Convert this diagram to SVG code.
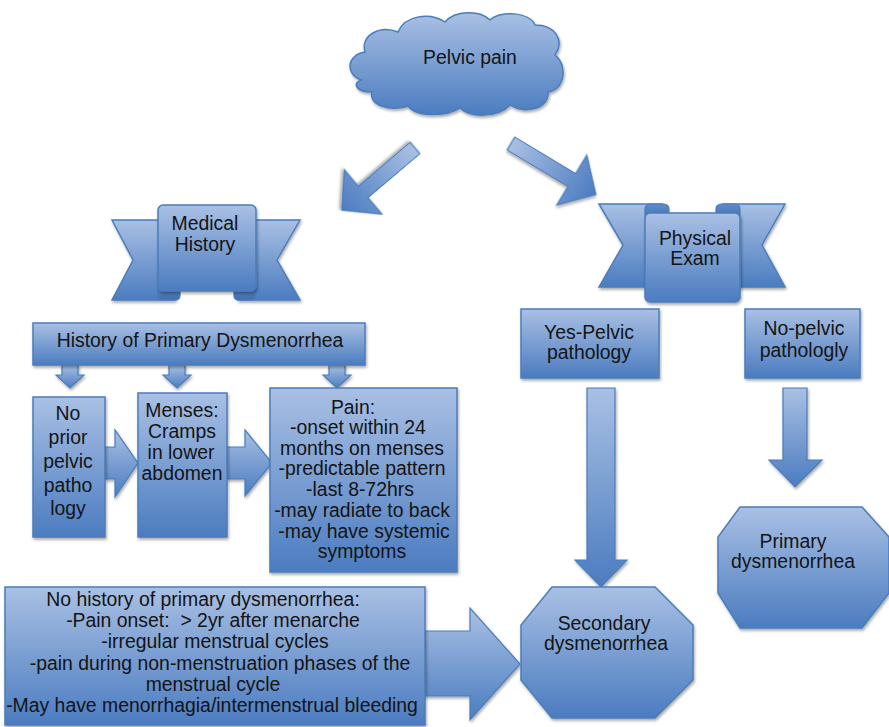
<svg xmlns="http://www.w3.org/2000/svg" width="889" height="727" viewBox="0 0 889 727">
<defs>
<linearGradient id="gv" x1="0" y1="0" x2="0" y2="1">
<stop offset="0" stop-color="#a9c0e4"/>
<stop offset="1" stop-color="#4b7cc0"/>
</linearGradient>
<linearGradient id="gh" x1="0" y1="0" x2="1" y2="0">
<stop offset="0" stop-color="#a9c0e4"/>
<stop offset="1" stop-color="#4b7cc0"/>
</linearGradient>
<linearGradient id="gfold" x1="0" y1="0" x2="0" y2="1">
<stop offset="0" stop-color="#5f8cc8"/>
<stop offset="1" stop-color="#3f6fb0"/>
</linearGradient>
<filter id="sh" x="-10%" y="-10%" width="130%" height="130%">
<feGaussianBlur in="SourceAlpha" stdDeviation="1.5"/>
<feOffset dx="1" dy="2" result="b"/>
<feComponentTransfer><feFuncA type="linear" slope="0.35"/></feComponentTransfer>
<feMerge><feMergeNode/><feMergeNode in="SourceGraphic"/></feMerge>
</filter>
</defs>
<style>
.s{fill:url(#gv);stroke:#4a7dbb;stroke-width:1.5;filter:url(#sh)}
.a{fill:url(#gv);stroke:#4a7dbb;stroke-width:1.2;filter:url(#sh)}
.ah{fill:url(#gh);stroke:#4a7dbb;stroke-width:1.2;filter:url(#sh)}
.f{fill:url(#gfold);stroke:#4a7dbb;stroke-width:1.2}
text{font-family:"Liberation Sans",Arial,sans-serif;font-size:19.4px;fill:#141414;text-anchor:middle}
</style>

<g id="connectors">
<polygon class="ah" transform="translate(415,148) rotate(139.7)" points="0,-7.5 68,-7.5 68,-29 96,0 68,29 68,7.5 0,7.5"/>
<polygon class="ah" transform="translate(511,143.5) rotate(31)" points="0,-7.5 71,-7.5 71,-29 99,0 71,29 71,7.5 0,7.5"/>
<polygon class="a" points="62,365 78,365 78,375 84,375 70,388 56,375 62,375"/>
<polygon class="a" points="169,365 185,365 185,375 191,375 177,388 163,375 169,375"/>
<polygon class="a" points="329,365 345,365 345,375 351,375 337,388 323,375 329,375"/>
<polygon class="a" points="105,447 115,447 115,430 138,463 115,497 115,479 105,479"/>
<polygon class="a" points="227,447 245,447 245,430 272,463 245,496 245,479 227,479"/>
<polygon class="a" points="425,631 470,631 470,608 520,664 470,720 470,696 425,696"/>
<polygon class="a" points="587,388 615,388 615,560 627,560 601,587 575,560 587,560"/>
<polygon class="a" points="783,388 807,388 807,460 822,460 795,487 769,460 783,460"/>
</g>

<g id="pelvic-pain">
<path class="s" d="M362,80 C345,75 346,55 365,52 C360,35 380,25 398,32 C405,15 430,12 445,22 C455,10 480,10 490,20 C500,10 530,12 535,25 C555,25 565,40 555,55 C568,65 565,90 548,92 C550,108 525,115 510,105 C498,118 470,118 460,108 C445,118 415,116 408,106 C390,112 368,105 372,92 C355,92 352,82 362,80 Z"/>
<text x="470" y="64">Pelvic pain</text>
</g>

<g id="medical-history">
<polygon class="s" points="112,220 175,220 175,300 112,300 133,260"/>
<polygon class="s" points="300,220 238,220 238,300 300,300 277,260"/>
<rect class="f" x="158" y="284" width="22" height="16" rx="4"/>
<rect class="f" x="234" y="284" width="22" height="16" rx="4"/>
<rect class="s" x="158" y="205" width="98" height="86" rx="5"/>
<text x="205" y="230">Medical</text>
<text x="205" y="251">History</text>
</g>

<g id="physical-exam">
<polygon class="s" points="599,204 662,204 662,287 599,287 623,245"/>
<polygon class="s" points="785,204 723,204 723,287 785,287 762,245"/>
<rect class="f" x="645" y="204" width="24" height="16" rx="5"/>
<rect class="f" x="716" y="204" width="24" height="16" rx="5"/>
<rect class="s" x="645" y="213" width="95" height="89" rx="5"/>
<text x="695" y="245">Physical</text>
<text x="695" y="265">Exam</text>
</g>

<g id="history-primary">
<rect class="s" x="33" y="323" width="332" height="42"/>
<text x="200" y="347">History of Primary Dysmenorrhea</text>
</g>

<g id="no-prior">
<rect class="s" x="33" y="397" width="72" height="140"/>
<text x="68" y="420">No</text>
<text x="68" y="444">prior</text>
<text x="68" y="468">pelvic</text>
<text x="68" y="492">patho</text>
<text x="68" y="515">logy</text>
</g>

<g id="menses">
<rect class="s" x="138" y="393" width="89" height="144"/>
<text x="182" y="417">Menses:</text>
<text x="182" y="438">Cramps</text>
<text x="181" y="459">in lower</text>
<text x="182" y="480">abdomen</text>
</g>

<g id="pain">
<rect class="s" x="270" y="388" width="187" height="184"/>
<text x="353" y="414">Pain:</text>
<text x="358" y="434">-onset within 24</text>
<text x="362" y="455">months on menses</text>
<text x="362" y="475">-predictable pattern</text>
<text x="360" y="496">-last 8-72hrs</text>
<text x="362" y="517">-may radiate to back</text>
<text x="364" y="538">-may have systemic</text>
<text x="362" y="558">symptoms</text>
</g>

<g id="no-history">
<rect class="s" x="5" y="587" width="420" height="138"/>
<text x="203" y="606">No history of primary dysmenorrhea:</text>
<text x="213" y="627" xml:space="preserve">-Pain onset:  &gt; 2yr after menarche</text>
<text x="215" y="648">-irregular menstrual cycles</text>
<text x="220" y="670">-pain during non-menstruation phases of the</text>
<text x="213" y="691">menstrual cycle</text>
<text x="212" y="712">-May have menorrhagia/intermenstrual bleeding</text>
</g>

<g id="yes-pelvic">
<rect class="s" x="521" y="309" width="138" height="69"/>
<text x="589" y="339">Yes-Pelvic</text>
<text x="589" y="359">pathology</text>
</g>

<g id="no-pelvic">
<rect class="s" x="745" y="309" width="115" height="69"/>
<text x="804" y="335">No-pelvic</text>
<text x="804" y="357">pathologly</text>
</g>

<g id="secondary">
<polygon class="s" points="552,587 655,587 693,625 693,680 655,718 552,718 521,680 521,625"/>
<text x="604" y="630">Secondary</text>
<text x="606" y="650">dysmenorrhea</text>
</g>

<g id="primary">
<polygon class="s" points="740,507 862,507 889,537 889,593 862,628 740,628 718,593 718,537"/>
<text x="793" y="548">Primary</text>
<text x="793" y="568">dysmenorrhea</text>
</g>
</svg>
